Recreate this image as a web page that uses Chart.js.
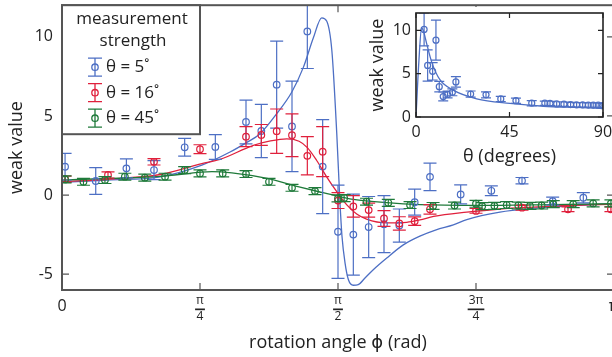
<!DOCTYPE html>
<html>
<head>
<meta charset="utf-8">
<script src="https://cdn.jsdelivr.net/npm/chart.js@4.4.1/dist/chart.umd.min.js"></script>
<style>
  html, body { margin: 0; padding: 0; background: #fff; overflow: hidden; }
  #wrap { position: relative; width: 612px; height: 357px; overflow: hidden; }
  #mainChart { position: absolute; left: 0; top: 0; }
  #insetChart { position: absolute; left: 360px; top: 7px; }
</style>
</head>
<body>
<div id="wrap">
  <canvas id="mainChart" width="620" height="357"></canvas>
  <canvas id="insetChart" width="252" height="165"></canvas>
</div>
<script>
// 旋轉角 φ 以度表示（0~180 對應 0~π）
const phiBlue = [1, 11, 21, 30, 40, 50, 60, 65, 70, 75, 80, 85, 90, 95, 100, 105, 110, 115, 120, 130, 140, 150, 160, 170];
const wvBlue  = [1.79, 0.89, 1.69, 1.58, 3.02, 3.04, 4.62, 4.05, 6.98, 4.34, 10.34, 1.8, -2.32, -2.5, -2.02, -1.84, -1.93, -0.45, 1.15, 0.04, 0.27, 0.91, -0.38, -0.17];
const errBlue = [0.85, 0.85, 0.6, 0.6, 0.56, 0.78, 1.38, 1.68, 2.75, 2.86, 2.34, 2.97, 2.95, 2.56, 1.93, 1.8, 1.05, 0.82, 0.87, 0.6, 0.31, 0.2, 0.25, 0.32];

const phiRed = [1, 15, 30, 45, 60, 65, 70, 75, 80, 85, 90, 95, 100, 105, 110, 115, 120, 135, 150, 165, 179];
const wvRed  = [1.0, 1.27, 2.1, 2.9, 3.69, 3.8, 4.04, 3.78, 2.48, 2.74, -0.35, -0.72, -0.95, -1.48, -1.79, -1.65, -0.9, -1.0, -0.8, -0.9, -0.9];
const errRed = [0.2, 0.2, 0.2, 0.28, 0.63, 0.66, 1.4, 1.35, 1.21, 1.58, 0.5, 0.68, 0.44, 0.5, 0.42, 0.27, 0.3, 0.15, 0.15, 0.15, 0.15];

const phiGreen = [1, 7, 14, 20.5, 27, 33.6, 40, 45, 52.4, 60, 67.5, 75, 82.5, 90, 92, 99.3, 106.4, 113.5, 121, 128, 135, 137, 141, 145, 148.8, 152.6, 156.4, 160.2, 166.7, 173.2, 179];
const wvGreen  = [0.99, 0.84, 0.95, 1.16, 1.1, 1.16, 1.58, 1.37, 1.37, 1.33, 0.84, 0.46, 0.25, -0.21, -0.19, -0.42, -0.49, -0.63, -0.69, -0.66, -0.55, -0.7, -0.68, -0.63, -0.66, -0.68, -0.66, -0.57, -0.57, -0.53, -0.53];
const errGreen = 0.22;

// 理論曲線
const fitBlueX = [0, 15, 32, 45.6, 54.8, 60, 64.6, 70, 74.9, 78.7, 82, 84.7, 86.3, 88, 89.6, 90.6, 91.3, 92.3, 93.4, 95, 96.6, 98.8, 101.5, 105.9, 111.3, 116.7, 122, 127.6, 132, 142.8, 153.6, 164.6, 175.4, 180];
const fitBlueY = [0.8, 0.95, 1.15, 1.89, 2.72, 3.3, 3.88, 5.14, 6.5, 8.07, 9.96, 11.2, 11.0, 9.12, 3.88, -0.31, -2.6, -4.3, -5.35, -5.7, -5.66, -5.24, -4.72, -3.98, -3.15, -2.6, -2.2, -1.89, -1.55, -1.08, -0.84, -0.69, -0.59, -0.57];
const fitRedX = [0, 15, 32, 45.6, 51.5, 62.4, 68, 73.3, 77.3, 80, 83, 86.3, 89.6, 92.8, 96.1, 99.3, 105.9, 112.4, 116.7, 121.2, 132, 142.8, 153.6, 164.6, 175.4, 180];
const fitRedY = [0.85, 1.0, 1.3, 1.99, 2.25, 3.14, 3.42, 3.55, 3.4, 3.0, 2.2, 1.15, 0.21, -0.6, -1.2, -1.52, -1.76, -1.72, -1.57, -1.35, -1.08, -0.88, -0.76, -0.66, -0.6, -0.58];
const fitGreenX = [0, 15.6, 31.9, 45.6, 48.9, 55.4, 66.9, 77.3, 83.8, 90.6, 95, 105.9, 116.7, 135, 160, 180];
const fitGreenY = [0.95, 1.05, 1.18, 1.45, 1.48, 1.4, 1.05, 0.52, 0.21, -0.1, -0.27, -0.48, -0.6, -0.65, -0.6, -0.55];

// 小圖：θ = 量測強度（度）
const thetaInset = [3.9, 5.6, 8, 9.6, 11.2, 13.1, 15.2, 17.5, 19.2, 26.3, 33.7, 40.8, 48.1, 55.7, 62, 64.5, 67.7, 71.2, 74.4, 77.3, 80.2, 82.9, 85.3, 87.7, 89.8];
const wvInset    = [10.1, 5.95, 5.27, 8.87, 3.5, 2.36, 2.6, 2.85, 4.05, 2.65, 2.56, 2.09, 1.88, 1.59, 1.59, 1.57, 1.51, 1.48, 1.43, 1.4, 1.4, 1.38, 1.38, 1.36, 1.31];
const errInset   = [1.9, 1.8, 1.0, 2.3, 0.6, 0.5, 0.4, 0.4, 0.6, 0.35, 0.35, 0.3, 0.3, 0.3, 0.25, 0.25, 0.25, 0.25, 0.25, 0.25, 0.25, 0.25, 0.25, 0.25, 0.25];
const fitInsetX = [0, 1.4, 2.7, 3.6, 5.1, 7.6, 11.5, 17.9, 29.2, 45.2, 61.3, 77.3, 90];
const fitInsetY = [0, 6.5, 10.3, 9.9, 8.5, 6.3, 4.3, 3.1, 2.1, 1.57, 1.24, 1.1, 1.01];

// 刻度
const xTicksMain = [0, 45, 90, 135, 180];
const xTickLabels = [['0'], ['π', '4'], ['π', '2'], ['3π', '4'], ['π']];
const yTicksMain = [-5, 0, 5, 10];
const xTicksInset = [0, 45, 90];
const yTicksInset = [0, 5, 10];
const legendLabels = ['θ = 5˚', 'θ = 16˚', 'θ = 45˚'];

const BLUE = '#4d6fc4', RED = '#e0203c', GREEN = '#1f7a3a';
const FONT = '"Open Sans", "DejaVu Sans", sans-serif';
Chart.defaults.font.family = FONT;
Chart.defaults.color = '#222';

const pts = (xs, ys, es) => xs.map((x, i) => ({ x, y: ys[i], err: Array.isArray(es) ? es[i] : (es || 0) }));

function pointSet(xs, ys, es, color, cap, r) {
  return {
    data: pts(xs, ys, es), borderColor: color, borderWidth: 1.2,
    pointRadius: r, pointBorderWidth: 1.2, pointBorderColor: color,
    pointBackgroundColor: 'transparent', showLine: false, capHalf: cap
  };
}
function lineSet(xs, ys, color) {
  return {
    data: pts(xs, ys), borderColor: color, borderWidth: 1.3, pointRadius: 0,
    showLine: true, cubicInterpolationMode: 'monotone'
  };
}

// 誤差棒
const errorBars = {
  id: 'errorBars',
  afterDatasetDraw(chart, args) {
    const ds = chart.data.datasets[args.index];
    if (!ds.capHalf) return;
    const { ctx, chartArea: a, scales: { x, y } } = chart;
    ctx.save();
    ctx.beginPath();
    ctx.rect(a.left, a.top, a.right - a.left, a.bottom - a.top);
    ctx.clip();
    ctx.strokeStyle = ds.borderColor;
    ctx.lineWidth = ds.borderWidth;
    ctx.beginPath();
    ds.data.forEach(p => {
      const px = x.getPixelForValue(p.x);
      const y1 = y.getPixelForValue(p.y + p.err), y2 = y.getPixelForValue(p.y - p.err);
      ctx.moveTo(px, y1); ctx.lineTo(px, y2);
      ctx.moveTo(px - ds.capHalf, y1); ctx.lineTo(px + ds.capHalf, y1);
      ctx.moveTo(px - ds.capHalf, y2); ctx.lineTo(px + ds.capHalf, y2);
    });
    ctx.stroke();
    ctx.restore();
  }
};

// 外框與向內刻度
const frame = {
  id: 'frame',
  afterDraw(chart, args, opts) {
    const { ctx, chartArea: a, scales: { x, y } } = chart;
    const L = opts.tick;
    ctx.save();
    ctx.strokeStyle = opts.color;
    ctx.lineWidth = opts.width;
    ctx.beginPath();
    x.ticks.forEach(t => {
      const px = x.getPixelForValue(t.value);
      ctx.moveTo(px, a.bottom); ctx.lineTo(px, a.bottom - L);
      ctx.moveTo(px, a.top); ctx.lineTo(px, a.top + L);
    });
    y.ticks.forEach(t => {
      const py = y.getPixelForValue(t.value);
      ctx.moveTo(a.left, py); ctx.lineTo(a.left + L, py);
      ctx.moveTo(a.right, py); ctx.lineTo(a.right - L, py);
    });
    ctx.lineWidth = 1.2;
    ctx.stroke();
    ctx.lineWidth = opts.width;
    ctx.strokeRect(a.left, a.top, a.right - a.left, a.bottom - a.top);
    ctx.restore();
  }
};

// x 軸分數刻度標籤
const fractionLabels = {
  id: 'fractionLabels',
  afterDraw(chart) {
    const { ctx, chartArea: a, scales: { x } } = chart;
    ctx.save();
    ctx.fillStyle = '#222';
    ctx.textAlign = 'center';
    ctx.textBaseline = 'middle';
    xTickLabels.forEach((lab, i) => {
      const px = x.getPixelForValue(xTicksMain[i]);
      if (lab.length === 1) {
        ctx.font = '16px ' + FONT;
        ctx.fillText(lab[0], px, a.bottom + 16);
      } else {
        ctx.font = '12px ' + FONT;
        ctx.fillText(lab[0], px, a.bottom + 11);
        const w = ctx.measureText(lab[0]).width + 2;
        ctx.fillRect(px - w / 2, a.bottom + 18.5, w, 1.7);
        ctx.fillText(lab[1], px, a.bottom + 27);
      }
    });
    ctx.restore();
  }
};

// 圖例方框
const legendBox = {
  id: 'legendBox',
  afterDraw(chart) {
    const { ctx, chartArea: a } = chart;
    const L = a.left, T = a.top, W = 138, H = 129;
    ctx.save();
    ctx.fillStyle = '#fff';
    ctx.fillRect(L, T, W, H);
    ctx.strokeStyle = '#555';
    ctx.lineWidth = 2;
    ctx.strokeRect(L, T, W, H);
    ctx.fillStyle = '#222';
    ctx.font = '17px ' + FONT;
    ctx.textAlign = 'center';
    ctx.textBaseline = 'middle';
    ctx.fillText('measurement', L + 70, T + 14);
    ctx.fillText('strength', L + 71, T + 36);
    [BLUE, RED, GREEN].forEach((c, i) => {
      const cx = L + 33, cy = T + 62 + i * 25.5;
      ctx.strokeStyle = c;
      ctx.lineWidth = 1.3;
      ctx.beginPath();
      ctx.moveTo(cx, cy - 9); ctx.lineTo(cx, cy + 9);
      ctx.moveTo(cx - 7, cy - 9); ctx.lineTo(cx + 7, cy - 9);
      ctx.moveTo(cx - 7, cy + 9); ctx.lineTo(cx + 7, cy + 9);
      ctx.stroke();
      ctx.beginPath();
      ctx.arc(cx, cy, 3.2, 0, Math.PI * 2);
      ctx.stroke();
      ctx.textAlign = 'left';
      ctx.fillStyle = '#222';
      ctx.fillText(legendLabels[i], L + 44, cy);
    });
    ctx.restore();
  }
};

// 小圖背景
const whiteBg = {
  id: 'whiteBg',
  beforeDraw(chart) {
    const { ctx, chartArea: a } = chart;
    ctx.save();
    ctx.fillStyle = '#fff';
    ctx.fillRect(0, 0, a.right + 2, a.bottom + 2);
    ctx.restore();
  }
};

const noPad = s => { s.paddingTop = 0; s.paddingBottom = 0; s.paddingLeft = 0; s.paddingRight = 0; };

new Chart(document.getElementById('mainChart'), {
  type: 'scatter',
  data: {
    datasets: [
      pointSet(phiGreen, wvGreen, errGreen, GREEN, 6.5, 3.3),
      pointSet(phiRed, wvRed, errRed, RED, 6.5, 3.3),
      pointSet(phiBlue, wvBlue, errBlue, BLUE, 6.5, 3.3),
      lineSet(fitGreenX, fitGreenY, GREEN),
      lineSet(fitRedX, fitRedY, RED),
      lineSet(fitBlueX, fitBlueY, BLUE)
    ]
  },
  options: {
    responsive: false,
    animation: false,
    devicePixelRatio: 1,
    layout: { padding: { top: 5, right: 6, left: 0, bottom: 0 } },
    plugins: {
      legend: { display: false },
      tooltip: { enabled: false },
      frame: { color: '#555', width: 2, tick: 7 }
    },
    scales: {
      x: {
        type: 'linear', min: 0, max: 180,
        grid: { display: false, drawTicks: false },
        border: { display: false },
        ticks: { display: false },
        afterBuildTicks: s => { s.ticks = xTicksMain.map(v => ({ value: v })); },
        afterFit: s => { s.height = 67; noPad(s); },
        title: { display: true, text: 'rotation angle ϕ (rad)', font: { size: 18 }, color: '#222', padding: { top: 0, bottom: 3 } }
      },
      y: {
        type: 'linear', min: -6, max: 12,
        grid: { display: false, drawTicks: false },
        border: { display: false },
        ticks: { padding: 9, font: { size: 16 }, color: '#222' },
        afterBuildTicks: s => { s.ticks = yTicksMain.map(v => ({ value: v })); },
        afterFit: s => { s.width = 62; noPad(s); },
        title: { display: true, text: 'weak value', font: { size: 18 }, color: '#222', padding: { top: 6, bottom: 0 } }
      }
    }
  },
  plugins: [errorBars, frame, fractionLabels, legendBox]
});

new Chart(document.getElementById('insetChart'), {
  type: 'scatter',
  data: {
    datasets: [
      pointSet(thetaInset, wvInset, errInset, BLUE, 5, 3),
      lineSet(fitInsetX, fitInsetY, BLUE)
    ]
  },
  options: {
    responsive: false,
    animation: false,
    devicePixelRatio: 1,
    layout: { padding: { top: 6, right: 9, left: 0, bottom: 0 } },
    plugins: {
      legend: { display: false },
      tooltip: { enabled: false },
      frame: { color: '#222', width: 1.6, tick: 5 }
    },
    scales: {
      x: {
        type: 'linear', min: 0, max: 90,
        grid: { display: false, drawTicks: false },
        border: { display: false },
        ticks: { padding: 6, font: { size: 16 }, color: '#222', maxRotation: 0 },
        afterBuildTicks: s => { s.ticks = xTicksInset.map(v => ({ value: v })); },
        afterFit: s => { s.height = 55; noPad(s); },
        title: { display: true, text: 'θ (degrees)', font: { size: 18 }, color: '#222', padding: { top: 0, bottom: 4 } }
      },
      y: {
        type: 'linear', min: 0, max: 12,
        grid: { display: false, drawTicks: false },
        border: { display: false },
        ticks: { padding: 5, font: { size: 16 }, color: '#222' },
        afterBuildTicks: s => { s.ticks = yTicksInset.map(v => ({ value: v })); },
        afterFit: s => { s.width = 56; noPad(s); },
        title: { display: true, text: 'weak value', font: { size: 18 }, color: '#222', padding: { top: 7, bottom: 0 } }
      }
    }
  },
  plugins: [whiteBg, errorBars, frame]
});
</script>
</body>
</html>
